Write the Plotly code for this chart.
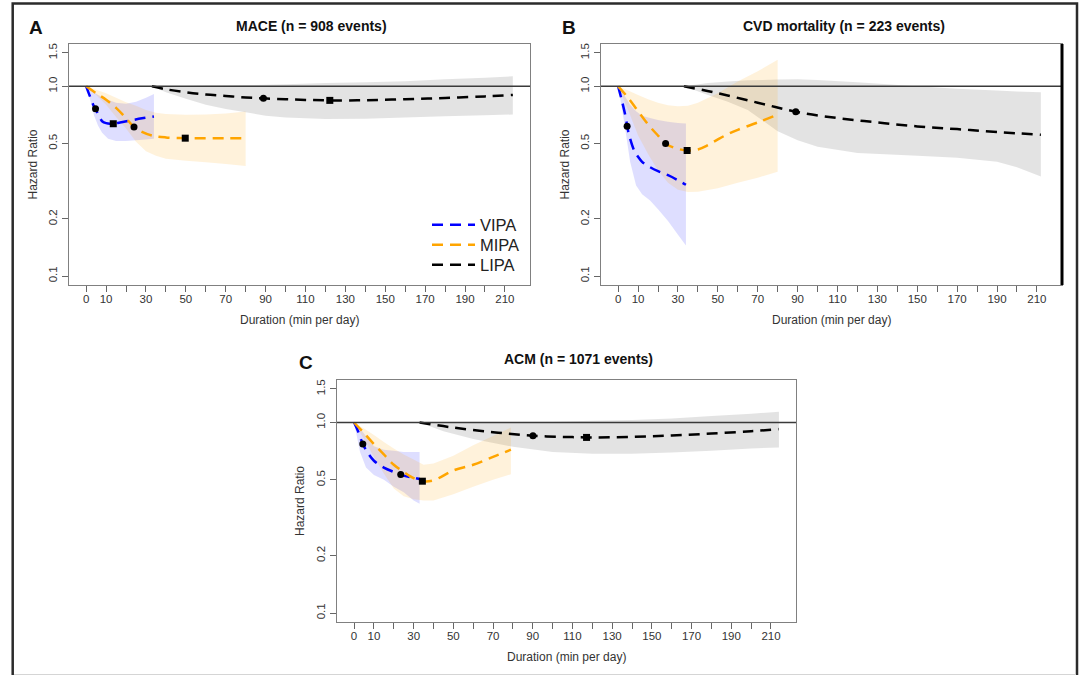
import plotly.graph_objects as go

# ---------------- data ----------------
# Panel A: MACE
A_VIPA_x = [0, 2, 4, 5, 6, 7, 8, 10, 13.6, 17, 22, 28, 34]
A_VIPA_hr = [1.0, 0.88, 0.78, 0.75, 0.71, 0.68, 0.655, 0.64, 0.635, 0.645, 0.66, 0.678, 0.694]
A_VIPA_band_x = [0, 2, 4, 6, 8, 11, 15, 20, 25, 30, 34]
A_VIPA_upper = [1.0, 0.96, 0.93, 0.9, 0.88, 0.85, 0.82, 0.81, 0.83, 0.87, 0.91]
A_VIPA_lower = [1.0, 0.85, 0.70, 0.62, 0.57, 0.53, 0.515, 0.515, 0.52, 0.525, 0.53]

A_MIPA_x = [0, 5, 10, 15, 20, 24, 28, 33, 40, 50, 60, 70, 80]
A_MIPA_hr = [1.0, 0.92, 0.85, 0.77, 0.68, 0.61, 0.575, 0.55, 0.538, 0.533, 0.533, 0.533, 0.533]
A_MIPA_band_x = [0, 5, 10, 15, 20, 25, 30, 35, 40, 50, 60, 70, 80]
A_MIPA_upper = [1.0, 0.96, 0.92, 0.87, 0.825, 0.79, 0.75, 0.725, 0.715, 0.708, 0.71, 0.72, 0.737]
A_MIPA_lower = [1.0, 0.9, 0.8, 0.69, 0.6, 0.51, 0.455, 0.43, 0.415, 0.405, 0.398, 0.39, 0.38]

A_LIPA_x = [33, 40, 50, 60, 70, 80, 89, 100, 110, 122, 140, 160, 180, 200, 214]
A_LIPA_hr = [1.0, 0.965, 0.93, 0.905, 0.89, 0.873, 0.864, 0.855, 0.848, 0.843, 0.845, 0.855, 0.868, 0.885, 0.90]
A_LIPA_band_x = [33, 40, 50, 60, 70, 80, 90, 100, 120, 140, 160, 180, 200, 214]
A_LIPA_upper = [1.0, 1.0, 1.005, 1.01, 1.012, 1.015, 1.02, 1.025, 1.04, 1.05, 1.065, 1.09, 1.11, 1.13]
A_LIPA_lower = [1.0, 0.93, 0.86, 0.80, 0.76, 0.73, 0.70, 0.685, 0.672, 0.675, 0.685, 0.695, 0.705, 0.71]

A_circle_x = [4.7, 24, 88.9]
A_circle_hr = [0.761, 0.61, 0.864]
A_square_x = [13.6, 49.7, 122.2]
A_square_hr = [0.635, 0.533, 0.843]

# Panel B: CVD mortality
B_VIPA_x = [0, 2, 4, 4.5, 6, 8, 10, 12, 15, 20, 25, 30, 34]
B_VIPA_hr = [1.0, 0.83, 0.67, 0.616, 0.53, 0.46, 0.425, 0.40, 0.38, 0.357, 0.34, 0.32, 0.303]
B_VIPA_band_x = [0, 3, 6, 9, 12, 16, 20, 25, 30, 34]
B_VIPA_upper = [1.0, 0.9, 0.8, 0.74, 0.70, 0.68, 0.665, 0.65, 0.64, 0.637]
B_VIPA_lower = [1.0, 0.65, 0.40, 0.30, 0.27, 0.25, 0.225, 0.195, 0.165, 0.145]

B_MIPA_x = [0, 5, 10, 15, 20, 23.8, 28, 34.6, 40, 45, 50, 55, 60, 70, 80]
B_MIPA_hr = [1.0, 0.87, 0.74, 0.63, 0.55, 0.50, 0.475, 0.459, 0.465, 0.49, 0.525, 0.56, 0.59, 0.645, 0.71]
B_MIPA_band_x = [0, 5, 10, 15, 20, 25, 30, 35, 40, 50, 60, 70, 80]
B_MIPA_upper = [1.0, 0.95, 0.9, 0.855, 0.82, 0.795, 0.785, 0.79, 0.82, 0.92, 1.06, 1.2, 1.38]
B_MIPA_lower = [1.0, 0.75, 0.55, 0.44, 0.36, 0.31, 0.285, 0.277, 0.278, 0.29, 0.31, 0.33, 0.355]

B_LIPA_x = [33, 50, 70, 89, 110, 130, 150, 170, 190, 212]
B_LIPA_hr = [1.0, 0.92, 0.82, 0.735, 0.68, 0.645, 0.615, 0.595, 0.575, 0.555]
B_LIPA_band_x = [33, 45, 55, 65, 80, 90, 100, 120, 150, 170, 190, 200, 212]
B_LIPA_upper = [1.0, 1.04, 1.06, 1.075, 1.085, 1.09, 1.08, 1.05, 1.0, 0.97, 0.95, 0.94, 0.93]
B_LIPA_lower = [1.0, 0.9, 0.83, 0.75, 0.58, 0.52, 0.48, 0.445, 0.43, 0.42, 0.40, 0.375, 0.335]

B_circle_x = [4.5, 23.8, 89.1]
B_circle_hr = [0.616, 0.50, 0.735]
B_square_x = [34.6]
B_square_hr = [0.459]

# Panel C: ACM
C_VIPA_x = [0, 2, 4.4, 7, 10, 15, 20, 23.5, 27, 30, 33]
C_VIPA_hr = [1.0, 0.9, 0.771, 0.69, 0.63, 0.58, 0.55, 0.533, 0.52, 0.513, 0.505]
C_VIPA_band_x = [0, 3, 6, 10, 15, 20, 25, 30, 33]
C_VIPA_upper = [1.0, 0.93, 0.85, 0.75, 0.72, 0.71, 0.70, 0.70, 0.70]
C_VIPA_lower = [1.0, 0.7, 0.58, 0.53, 0.50, 0.46, 0.43, 0.39, 0.375]

C_MIPA_x = [0, 5, 10, 15, 20, 25, 30, 34.4, 40, 50, 60, 70, 79]
C_MIPA_hr = [1.0, 0.88, 0.77, 0.68, 0.6, 0.55, 0.51, 0.492, 0.497, 0.56, 0.60, 0.66, 0.72]
C_MIPA_band_x = [0, 5, 10, 15, 20, 25, 30, 35, 40, 50, 60, 70, 79]
C_MIPA_upper = [1.0, 0.93, 0.86, 0.79, 0.73, 0.68, 0.64, 0.60, 0.61, 0.67, 0.76, 0.85, 0.94]
C_MIPA_lower = [1.0, 0.82, 0.66, 0.54, 0.45, 0.41, 0.395, 0.39, 0.39, 0.42, 0.46, 0.50, 0.535]

C_LIPA_x = [33, 50, 70, 90, 110, 117, 140, 160, 180, 200, 214]
C_LIPA_hr = [1.0, 0.94, 0.89, 0.852, 0.838, 0.835, 0.84, 0.855, 0.875, 0.9, 0.923]
C_LIPA_band_x = [33, 45, 60, 80, 100, 120, 140, 160, 180, 200, 214]
C_LIPA_upper = [1.0, 1.0, 1.0, 1.005, 1.01, 1.02, 1.03, 1.05, 1.08, 1.11, 1.14]
C_LIPA_lower = [1.0, 0.9, 0.82, 0.745, 0.70, 0.685, 0.685, 0.695, 0.71, 0.73, 0.74]

C_circle_x = [4.4, 23.5, 90.1]
C_circle_hr = [0.771, 0.533, 0.852]
C_square_x = [34.4, 117.1]
C_square_hr = [0.492, 0.835]

X_TICKS = list(range(0, 220, 10))
X_LABELS = ["0", "10", "", "30", "", "50", "", "70", "", "90", "", "110", "", "130", "",
            "150", "", "170", "", "190", "", "210"]
Y_TICKS = [0.1, 0.2, 0.5, 1.0, 1.5]
Y_LABELS = ["0.1", "0.2", "0.5", "1.0", "1.5"]

SERIES_NAMES = ["VIPA", "MIPA", "LIPA"]
LINE_COLORS = {"VIPA": "#0000FF", "MIPA": "#FFA500", "LIPA": "#000000"}
BAND_COLORS = {"VIPA": "rgba(0,0,255,0.13)", "MIPA": "rgba(255,165,0,0.14)", "LIPA": "rgba(0,0,0,0.11)"}
LEGEND_IDS = {"VIPA": "legend", "MIPA": "legend2", "LIPA": "legend3"}

PANEL_TITLES = ["MACE (n = 908 events)", "CVD mortality (n = 223 events)", "ACM (n = 1071 events)"]
PANEL_LETTERS = ["A", "B", "C"]
X_TITLE = "Duration (min per day)"
Y_TITLE = "Hazard Ratio"

# ---------------- figure ----------------
W, H = 1082, 675
FONT = "Liberation Sans, Arial, Helvetica, sans-serif"


def px_x(v):
    return v / W


def px_y(v):
    return 1 - v / H


panels = [
    dict(xa="x", ya="y", vipa=(A_VIPA_x, A_VIPA_hr, A_VIPA_band_x, A_VIPA_upper, A_VIPA_lower),
         mipa=(A_MIPA_x, A_MIPA_hr, A_MIPA_band_x, A_MIPA_upper, A_MIPA_lower),
         lipa=(A_LIPA_x, A_LIPA_hr, A_LIPA_band_x, A_LIPA_upper, A_LIPA_lower),
         circ=(A_circle_x, A_circle_hr), sq=(A_square_x, A_square_hr),
         box=(69, 530, 44, 285)),
    dict(xa="x2", ya="y2", vipa=(B_VIPA_x, B_VIPA_hr, B_VIPA_band_x, B_VIPA_upper, B_VIPA_lower),
         mipa=(B_MIPA_x, B_MIPA_hr, B_MIPA_band_x, B_MIPA_upper, B_MIPA_lower),
         lipa=(B_LIPA_x, B_LIPA_hr, B_LIPA_band_x, B_LIPA_upper, B_LIPA_lower),
         circ=(B_circle_x, B_circle_hr), sq=(B_square_x, B_square_hr),
         box=(601, 1062, 44, 285)),
    dict(xa="x3", ya="y3", vipa=(C_VIPA_x, C_VIPA_hr, C_VIPA_band_x, C_VIPA_upper, C_VIPA_lower),
         mipa=(C_MIPA_x, C_MIPA_hr, C_MIPA_band_x, C_MIPA_upper, C_MIPA_lower),
         lipa=(C_LIPA_x, C_LIPA_hr, C_LIPA_band_x, C_LIPA_upper, C_LIPA_lower),
         circ=(C_circle_x, C_circle_hr), sq=(C_square_x, C_square_hr),
         box=(337, 796, 380, 622)),
]

fig = go.Figure()

for pi, p in enumerate(panels):
    series = {"VIPA": p["vipa"], "MIPA": p["mipa"], "LIPA": p["lipa"]}
    for name in ["LIPA", "VIPA", "MIPA"]:
        x, hr, bx, up, lo = series[name]
        fig.add_trace(go.Scatter(
            x=list(bx) + list(bx)[::-1], y=list(up) + list(lo)[::-1],
            fill="toself", fillcolor=BAND_COLORS[name], mode="none",
            line=dict(width=0), hoverinfo="skip", showlegend=False,
            xaxis=p["xa"], yaxis=p["ya"]))
    for name in SERIES_NAMES:
        x, hr, bx, up, lo = series[name]
        fig.add_trace(go.Scatter(
            x=x, y=hr, mode="lines", name=name, line_shape="spline",
            line=dict(color=LINE_COLORS[name], width=2.5, dash="11px,7px"),
            showlegend=(pi == 0), legend=LEGEND_IDS[name],
            xaxis=p["xa"], yaxis=p["ya"]))
    fig.add_trace(go.Scatter(
        x=p["circ"][0], y=p["circ"][1], mode="markers",
        marker=dict(symbol="circle", size=7, color="black"),
        showlegend=False, xaxis=p["xa"], yaxis=p["ya"]))
    fig.add_trace(go.Scatter(
        x=p["sq"][0], y=p["sq"][1], mode="markers",
        marker=dict(symbol="square", size=7, color="black"),
        showlegend=False, xaxis=p["xa"], yaxis=p["ya"]))


def legend_box(top_px):
    return dict(x=px_x(427), y=px_y(top_px), xanchor="left", yanchor="top",
                bgcolor="rgba(0,0,0,0)", borderwidth=0, itemwidth=43,
                font=dict(size=16.5, color="#222", family=FONT))


layout = dict(
    width=W, height=H,
    margin=dict(l=0, r=0, t=0, b=0),
    paper_bgcolor="white", plot_bgcolor="white",
    font=dict(family=FONT, color="#222"),
    legend=legend_box(207.5), legend2=legend_box(227.5), legend3=legend_box(247.5),
    annotations=[], shapes=[],
)

for pi, p in enumerate(panels):
    l, r, t, b = p["box"]
    sfx = "" if pi == 0 else str(pi + 1)
    layout["xaxis" + sfx] = dict(
        domain=[px_x(l), px_x(r)], anchor=p["ya"], range=[-8.6, 222.6],
        tickmode="array", tickvals=X_TICKS, ticktext=X_LABELS,
        ticks="outside", ticklen=6, tickcolor="#666", tickwidth=1,
        ticklabelstandoff=-3,
        showline=True, linecolor="#808080", linewidth=1, mirror=True,
        showgrid=False, zeroline=False,
        tickfont=dict(size=11.5, color="#333", family=FONT))
    layout["yaxis" + sfx] = dict(
        domain=[px_y(b), px_y(t)], anchor=p["xa"], type="log", range=[-1.047, 0.223],
        tickmode="array", tickvals=Y_TICKS, ticktext=Y_LABELS, tickangle=-90,
        ticks="outside", ticklen=6, tickcolor="#666", tickwidth=1,
        showline=True, linecolor="#808080", linewidth=1, mirror=True,
        showgrid=False, zeroline=False,
        tickfont=dict(size=11.5, color="#333", family=FONT))
    layout["shapes"].append(dict(type="line", xref=p["xa"] + " domain", x0=0, x1=1,
                                 yref=p["ya"], y0=1, y1=1,
                                 line=dict(color="#3a3a3a", width=1.5)))
    cx = (l + r) / 2
    title_y = 26 if pi < 2 else 359
    letter_pos = [(35.5, 28), (569, 28), (306, 362)][pi]
    layout["annotations"] += [
        dict(text="<b>" + PANEL_TITLES[pi] + "</b>", xref="paper", yref="paper",
             x=px_x(cx + 12), y=px_y(title_y), xanchor="center", yanchor="middle",
             showarrow=False, font=dict(size=14, color="#111", family=FONT)),
        dict(text="<b>" + PANEL_LETTERS[pi] + "</b>", xref="paper", yref="paper",
             x=px_x(letter_pos[0]), y=px_y(letter_pos[1]), xanchor="center", yanchor="middle",
             showarrow=False, font=dict(size=19, color="#111", family=FONT)),
        dict(text=X_TITLE, xref="paper", yref="paper",
             x=px_x(cx), y=px_y(b + 35), xanchor="center", yanchor="middle",
             showarrow=False, font=dict(size=12, color="#333", family=FONT)),
        dict(text=Y_TITLE, xref="paper", yref="paper", textangle=-90,
             x=px_x(l - 37), y=px_y((t + b) / 2), xanchor="center", yanchor="middle",
             showarrow=False, font=dict(size=12, color="#333", family=FONT)),
    ]

layout["shapes"].append(dict(type="line", xref="x2 domain", x0=1, x1=1, yref="y2 domain", y0=0, y1=1,
                             line=dict(color="black", width=3)))
layout["shapes"].append(dict(type="rect", xref="paper", yref="paper",
                             x0=px_x(12.7), x1=px_x(1077), y0=-0.05, y1=px_y(3.5),
                             line=dict(color="#2b2b2b", width=2.5)))
layout["shapes"].append(dict(type="line", xref="paper", yref="paper",
                             x0=px_x(14), x1=px_x(1076), y0=px_y(674.5), y1=px_y(674.5),
                             line=dict(color="#d5d5d5", width=1)))

fig.update_layout(**layout)
fig.write_html("out.html", config={"displayModeBar": False},
               post_script="document.body.style.margin='0px';document.body.style.overflow='hidden';")
